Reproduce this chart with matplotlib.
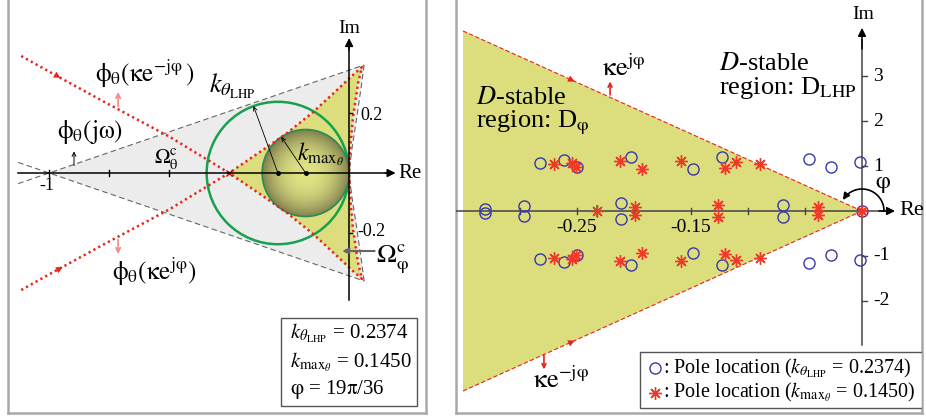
import numpy as np
import matplotlib
matplotlib.use("Agg")
import matplotlib.pyplot as plt
from matplotlib.patches import Circle, Polygon, Rectangle

plt.rcParams['font.family'] = ['Liberation Serif', 'DejaVu Serif']
plt.rcParams['mathtext.fontset'] = 'stix'

# ---------------- left panel values ----------------
k_lhp = 0.2374
k_max = 0.1450
# image of kappa*e^{j phi}; the conjugate gives kappa*e^{-j phi}
map_re = [-1.093, -0.973, -0.803, -0.597, -0.4, -0.287, -0.207, -0.12, -0.04,
          0.013, 0.043, 0.03, 0.013, 0.003, 0.0]
map_im = [-0.39, -0.323, -0.23, -0.12, 0.0, 0.077, 0.133, 0.203, 0.277,
          0.327, 0.353, 0.30, 0.187, 0.077, 0.0]
# upper boundary of Omega_theta^c
bnd_re = [-1.0, 0.05, 0.042, 0.026, 0.009, 0.0]
bnd_im = [0.0, 0.36, 0.299, 0.188, 0.077, 0.0]
left_re_ticks = [-1.0, -0.8, -0.6]
left_im_ticks = [0.2, -0.2]

# ---------------- right panel values (pole locations) ----------------
phi = 19 * np.pi / 36
blue_up_re = [-0.2825, -0.2614, -0.2503, -0.2026, -0.148, -0.1228, -0.0465, -0.0275, -0.0018]
blue_up_im = [1.06, 1.13, 0.97, 1.19, 0.93, 1.21, 1.16, 0.97, 1.08]
blue_ax_re = [-0.331, -0.2965, -0.2114, -0.0696]
blue_ax_im = [0.04, 0.11, 0.17, 0.14]
red_up_re = [-0.2702, -0.2541, -0.2509, -0.212, -0.1927, -0.1585, -0.1202, -0.1102, -0.0895]
red_up_im = [1.04, 1.07, 0.98, 1.12, 0.93, 1.12, 0.96, 1.09, 1.04]
red_ax_re = [-0.1988, -0.1266, -0.0386]
red_ax_im = [0.09, 0.125, 0.09]
red_real = [-0.2327, 0.0]
right_re_ticks = [-0.3, -0.25, -0.2, -0.15, -0.1, -0.05]
right_re_labels = {-0.25: '-0.25', -0.15: '-0.15'}
right_im_ticks = [3, 2, 1, -1, -2]

RED = '#e8221c'
YEL = '#dcdd7c'
BLUE = '#3838a8'
FRAME = '#a8a8a8'

K_LHP = r'$k_{\theta_{\mathrm{LHP}}}$'
K_MAX = r'$k_{\mathrm{max}_{\theta}}$'


def arrow(ax, p0, p1, color='k', lw=1.0, style='-|>', ms=10, z=6):
    ax.annotate('', xy=p1, xytext=p0,
                arrowprops=dict(arrowstyle=style, color=color, lw=lw,
                                mutation_scale=ms, shrinkA=0, shrinkB=0),
                zorder=z)


fig = plt.figure(figsize=(9.26, 4.2), dpi=100)

# ======================= left panel =======================
ax = fig.add_axes([8 / 926, 7 / 420, 418 / 926, 413 / 420])
ax.set_xlim(-1.137, 0.2563)
ax.set_ylim(-0.8, 0.5767)
ax.set_xticks([])
ax.set_yticks([])
for s in ['left', 'right', 'bottom']:
    ax.spines[s].set_color(FRAME)
    ax.spines[s].set_linewidth(1.8)
ax.spines['top'].set_visible(False)

bre = np.array(bnd_re)
bim = np.array(bnd_im)
gray_poly = np.column_stack([np.r_[bre, bre[::-1]], np.r_[bim, -bim[::-1]]])
ax.add_patch(Polygon(gray_poly, closed=True, fc='#ececec', ec='none', zorder=1))
ax.plot(bre[1:], bim[1:], color='#666666', lw=0.8, ls=(0, (5, 3)), zorder=1.5)
ax.plot(bre[1:], -bim[1:], color='#666666', lw=0.8, ls=(0, (5, 3)), zorder=1.5)
ext = -1.103
sl = bim[1] / (bre[1] + 1)
ax.plot([ext, bre[1]], [sl * (ext + 1), bim[1]], color='#666666', lw=0.8, ls=(0, (5, 3)), zorder=1.5)
ax.plot([ext, bre[1]], [-sl * (ext + 1), -bim[1]], color='#666666', lw=0.8, ls=(0, (5, 3)), zorder=1.5)

mre = np.array(map_re)
mim = np.array(map_im)
i0 = 4
yel = np.column_stack([np.r_[mre[i0:], mre[i0:][::-1]], np.r_[mim[i0:], -mim[i0:][::-1]]])
ax.add_patch(Polygon(yel, closed=True, fc=YEL, ec='none', zorder=2))

ax.add_patch(Circle((-k_lhp, 0), k_lhp, fc='none', ec='#17a050', lw=1.8, zorder=3))

# shaded small disc
n = 200
xx = np.linspace(-2 * k_max, 0, n)
yy = np.linspace(-k_max, k_max, n)
X, Y = np.meshgrid(xx, yy)
R = np.sqrt((X + k_max) ** 2 + Y ** 2) / k_max
t = np.clip(R, 0, 1) ** 2.2
c0 = np.array([0.88, 0.89, 0.52])
c1 = np.array([0.50, 0.50, 0.30])
img = c0[None, None, :] * (1 - t[..., None]) + c1[None, None, :] * t[..., None]
disc = Circle((-k_max, 0), k_max, fc='none', ec='#2a8a5a', lw=1.2, zorder=3.2)
ax.add_patch(disc)
im = ax.imshow(img, extent=[-2 * k_max, 0, -k_max, k_max], origin='lower', zorder=3, aspect='auto')
im.set_clip_path(disc)

ax.plot(mre, mim, color=RED, lw=1.8, ls=(0, (0.9, 1.3)), zorder=4)
ax.plot(mre, -mim, color=RED, lw=1.8, ls=(0, (0.9, 1.3)), zorder=4)
ax.plot([-0.4], [0], marker='x', color='#b01010', ms=4, mew=1, zorder=4)
arrow(ax, (-1.005, 0.342), (-0.962, 0.317), color=RED, lw=0, ms=12)
arrow(ax, (-0.995, -0.336), (-0.955, -0.313), color=RED, lw=0, ms=12)
arrow(ax, (-0.77, 0.222), (-0.77, 0.27), color='#f08a8a', lw=1.2, style='->', ms=8)
arrow(ax, (-0.77, -0.222), (-0.77, -0.27), color='#f08a8a', lw=1.2, style='->', ms=8)
arrow(ax, (-0.917, 0.025), (-0.917, 0.072), color='k', lw=0.7, style='->', ms=7)
arrow(ax, (0.085, -0.26), (-0.023, -0.26), color='#666666', lw=1.5, style='->', ms=9)

# radii
a1 = np.deg2rad(110)
a2 = np.deg2rad(124)
arrow(ax, (-k_lhp, 0), (-k_lhp + k_lhp * np.cos(a1), k_lhp * np.sin(a1)), lw=0.6, style='->', ms=7)
arrow(ax, (-k_max, 0), (-k_max + k_max * np.cos(a2), k_max * np.sin(a2)), lw=0.6, style='->', ms=7)
ax.plot([-k_lhp, -k_max], [0, 0], 'ko', ms=2.5, zorder=6)

# axes
ax.plot([-1.103, 0.14], [0, 0], color='k', lw=1.1, zorder=5)
ax.plot([0, 0], [-0.423, 0.43], color='k', lw=1.1, zorder=5)
arrow(ax, (0.12, 0), (0.155, 0), ms=12, lw=1.1, z=5)
arrow(ax, (0, 0.41), (0, 0.45), ms=12, lw=1.1, z=5)
for v in left_re_ticks:
    ax.plot([v, v], [-0.01, 0.01], color='k', lw=1, zorder=5)
for v in left_im_ticks:
    ax.plot([0, 0.01], [v, v], color='k', lw=1, zorder=5)
ax.text(0.0, 0.483, 'Im', fontsize=14, ha='center', va='center')
ax.text(0.163, 0.0, 'Re', fontsize=15, ha='left', va='center')
ax.text(0.037, 0.193, '0.2', fontsize=13, ha='left', va='center')
ax.text(0.027, -0.195, '-0.2', fontsize=13, ha='left', va='center')
ax.text(-1.007, -0.04, '-1', fontsize=13, ha='center', va='center')

ax.text(-0.68, 0.33, r'$\mathrm{\phi_\theta(\kappa e^{-j\varphi}\,)}$', fontsize=18, ha='center', va='center')
ax.text(-0.39, 0.29, K_LHP, fontsize=19, ha='center', va='center')
ax.text(-0.863, 0.137, r'$\mathrm{\phi_\theta(j\omega)}$', fontsize=18, ha='center', va='center')
ax.text(-0.61, 0.05, r'$\mathrm{\Omega_\theta^c}$', fontsize=15, ha='center', va='center')
ax.text(-0.175, 0.063, K_MAX, fontsize=17, ha='left', va='center')
ax.text(0.09, -0.285, r'$\mathrm{\Omega_\varphi^c}$', fontsize=19, ha='left', va='center')
ax.text(-0.65, -0.33, r'$\mathrm{\phi_\theta(\kappa e^{j\varphi})}$', fontsize=18, ha='center', va='center')

ax.add_patch(Rectangle((-0.227, -0.777), 0.454, 0.294, fc='white', ec='#555555', lw=1, zorder=6))
ax.text(-0.197, -0.533, K_LHP + ' = 0.2374', fontsize=15, va='center', zorder=7)
ax.text(-0.197, -0.63, K_MAX + ' = 0.1450', fontsize=15, va='center', zorder=7)
ax.text(-0.197, -0.723, r'$\mathrm{\varphi}$ = 19$\mathrm{\pi}$/36', fontsize=15, va='center', zorder=7)

# ======================= right panel =======================
bx = fig.add_axes([456 / 926, 7 / 420, 466 / 926, 413 / 420])
bx.set_xlim(-0.35614, 0.05263)
bx.set_ylim(-4.489, 4.689)
bx.set_xticks([])
bx.set_yticks([])
for s in ['left', 'right', 'bottom']:
    bx.spines[s].set_color(FRAME)
    bx.spines[s].set_linewidth(1.8)
bx.spines['top'].set_visible(False)

x_edge = -0.35
y_edge = x_edge * np.tan(phi)
bx.add_patch(Polygon([[x_edge, y_edge], [0, 0], [x_edge, -y_edge]], closed=True,
                     fc=YEL, ec='none', zorder=1))
bx.plot([x_edge, 0], [y_edge, 0], color=RED, lw=0.8, ls=(0, (4, 2)), zorder=2)
bx.plot([x_edge, 0], [-y_edge, 0], color=RED, lw=0.8, ls=(0, (4, 2)), zorder=2)
arrow(bx, (-0.262, -0.262 * np.tan(phi)), (-0.252, -0.252 * np.tan(phi)), color=RED, lw=0, ms=12)
arrow(bx, (-0.262, 0.262 * np.tan(phi)), (-0.252, 0.252 * np.tan(phi)), color=RED, lw=0, ms=12)
arrow(bx, (-0.221, 2.58), (-0.221, 2.88), color=RED, lw=1.2, style='->', ms=7)
arrow(bx, (-0.279, -3.2), (-0.279, -3.52), color=RED, lw=1.2, style='->', ms=7)

# axes
bx.plot([-0.356, 0.02], [0, 0], color='#444444', lw=1.1, zorder=3)
bx.plot([0, 0], [-2.98, 3.8], color='#444444', lw=1.1, zorder=3)
arrow(bx, (0.015, 0), (0.029, 0), ms=12, lw=1.1, z=3)
arrow(bx, (0, 3.6), (0, 4.07), ms=12, lw=1.1, z=3)
for v in right_re_ticks:
    bx.plot([v, v], [-0.07, 0.07], color='#444444', lw=1, zorder=3)
    if v in right_re_labels:
        bx.text(v, -0.18, right_re_labels[v], fontsize=14, ha='center', va='top')
for v in right_im_ticks:
    bx.plot([0, 0.004], [v, v], color='#444444', lw=1, zorder=3)
    bx.text(0.0095, v, str(v), fontsize=14, ha='left', va='center')
bx.text(0.001, 4.36, 'Im', fontsize=14, ha='center', va='center')
bx.text(0.033, 0.0, 'Re', fontsize=16, ha='left', va='center')

# phi arc
ta = np.deg2rad(np.linspace(0, 150, 60))
ax_r = 22 / 1140
ay_r = 22 / 45
bx.plot(ax_r * np.cos(ta[:-3]), ay_r * np.sin(ta[:-3]), color='k', lw=1.2, zorder=4)
arrow(bx, (ax_r * np.cos(ta[-4]), ay_r * np.sin(ta[-4])), (ax_r * np.cos(ta[-1]), ay_r * np.sin(ta[-1])),
      ms=10, lw=1.2)
bx.text(0.0184, 0.58, r'$\mathrm{\varphi}$', fontsize=17, ha='center', va='center')

# poles
bur = np.array(blue_up_re)
bui = np.array(blue_up_im)
bar = np.array(blue_ax_re)
bai = np.array(blue_ax_im)
blue_re = np.r_[bur, bur, bar, bar, 0.0]
blue_im = np.r_[bui, -bui, bai, -bai, 0.0]
rur = np.array(red_up_re)
rui = np.array(red_up_im)
rar = np.array(red_ax_re)
rai = np.array(red_ax_im)
red_re = np.r_[rur, rur, rar, rar, red_real]
red_im = np.r_[rui, -rui, rai, -rai, np.zeros(len(red_real))]
bx.plot(blue_re, blue_im, ls='none', marker='o', ms=8, mfc='none', mec=BLUE, mew=1.0, zorder=5)
bx.plot(red_re, red_im, ls='none', marker=(8, 2, 0), ms=9, color='#ef3a2a', mew=1.0, zorder=5)
bx.plot([red_real[0]], [0], ls='none', marker='|', ms=9, color='#2a9a40', mew=1.2, zorder=4.9)

bx.text(-0.3386, 2.2, '$D$-stable\nregion: D$_{\\mathrm{\\varphi}}$', fontsize=19, ha='left', va='center',
        linespacing=1.0)
bx.text(-0.1254, 2.97, '$D$-stable\nregion: D$_{\\mathrm{LHP}}$', fontsize=19, ha='left', va='center',
        linespacing=1.0)
bx.text(-0.228, 3.18, r'$\mathrm{\kappa e^{j\varphi}}$', fontsize=19, ha='left', va='center')
bx.text(-0.289, -3.76, r'$\mathrm{\kappa e^{-j\varphi}}$', fontsize=19, ha='left', va='center')

bx.add_patch(Rectangle((-0.1947, -4.38), 0.2473, 1.25, fc='white', ec='#555555', lw=1, zorder=6))
bx.plot([-0.1815], [-3.49], ls='none', marker='o', ms=8, mfc='none', mec=BLUE, mew=1.0, zorder=7)
bx.plot([-0.1815], [-4.04], ls='none', marker=(8, 2, 0), ms=9, color='#ef3a2a', mew=1.0, zorder=7)
bx.text(-0.175, -3.49, ': Pole location (' + K_LHP + ' = 0.2374)', fontsize=14.5, va='center', zorder=7)
bx.text(-0.175, -4.04, ': Pole location (' + K_MAX + ' = 0.1450)', fontsize=14.5, va='center', zorder=7)

fig.savefig('out.png', dpi=100)
